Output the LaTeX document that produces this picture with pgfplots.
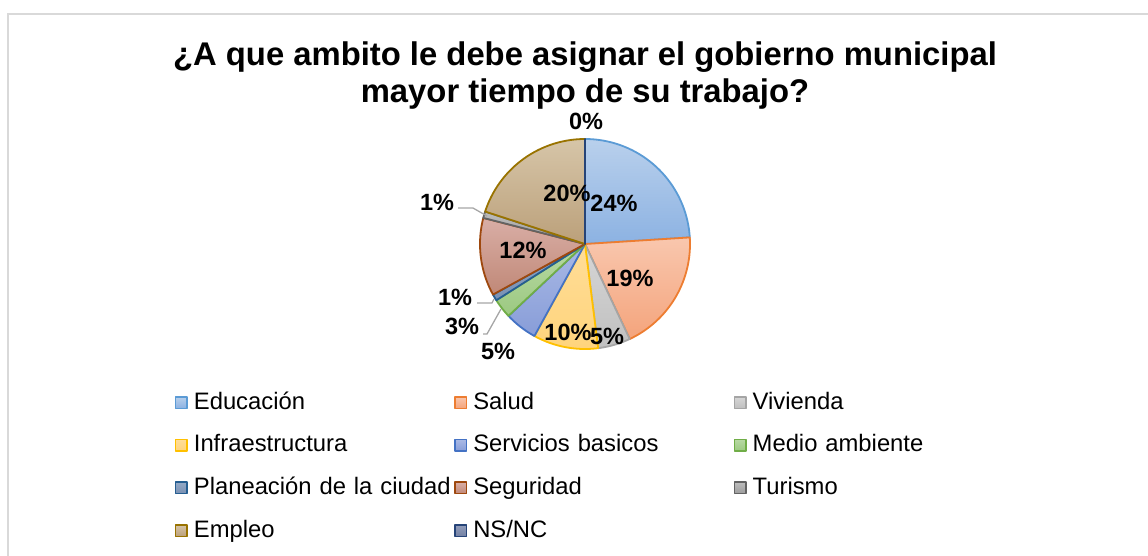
\documentclass[border=0pt]{standalone}
\usepackage{fontspec}
\setmainfont{Liberation Sans}
\usepackage{pgfplots}
\pgfplotsset{compat=1.18}

% fill top / fill bottom / border
\definecolor{eduT}{HTML}{B9D0EC}\definecolor{eduD}{HTML}{8CB2E2}\definecolor{eduB}{HTML}{5B9BD5}
\definecolor{salT}{HTML}{F9C7AE}\definecolor{salD}{HTML}{F4A47C}\definecolor{salB}{HTML}{ED7D31}
\definecolor{vivT}{HTML}{D6D6D6}\definecolor{vivD}{HTML}{C0C0C0}\definecolor{vivB}{HTML}{A5A5A5}
\definecolor{infT}{HTML}{FFDD98}\definecolor{infD}{HTML}{FFD47C}\definecolor{infB}{HTML}{FFC000}
\definecolor{serT}{HTML}{A9B9E5}\definecolor{serD}{HTML}{889DD8}\definecolor{serB}{HTML}{4472C4}
\definecolor{medT}{HTML}{B8D9A4}\definecolor{medD}{HTML}{9CC981}\definecolor{medB}{HTML}{70AD47}
\definecolor{plaT}{HTML}{93A9C6}\definecolor{plaD}{HTML}{7990B3}\definecolor{plaB}{HTML}{255E91}
\definecolor{segT}{HTML}{D9AEA6}\definecolor{segD}{HTML}{C08877}\definecolor{segB}{HTML}{9E480E}
\definecolor{turT}{HTML}{BDBDBD}\definecolor{turD}{HTML}{9C9C9C}\definecolor{turB}{HTML}{636363}
\definecolor{empT}{HTML}{D6C5A8}\definecolor{empD}{HTML}{BBA07A}\definecolor{empB}{HTML}{997300}
\definecolor{nsnT}{HTML}{929DBA}\definecolor{nsnD}{HTML}{7381A4}\definecolor{nsnB}{HTML}{264478}
\definecolor{leader}{HTML}{A6A6A6}
\definecolor{frame}{HTML}{D9D9D9}

\begin{document}
\begin{tikzpicture}
\begin{axis}[
  scale only axis, width=1148pt, height=555pt,
  xmin=0, xmax=1148, ymin=0, ymax=555, y dir=reverse,
  hide axis, clip=false,
  legend columns=3,
  legend style={at={(axis description cs:0.152439,0.293694)}, anchor=north west,
    draw=none, fill=none, inner sep=0pt, outer sep=0pt, row sep=20.7pt,
    font=\fontsize{23.8}{28}\selectfont,
    cells={anchor=base west},
    nodes={inner sep=0pt, outer sep=0pt, anchor=base west, text width=260.5pt, align=left,
      text height=17pt, text depth=5pt}},
  legend image code/.code={\path[#1, line width=1.5pt] (0.75pt,0.75pt) rectangle (12.25pt,12.25pt); \path (18pt,0pt);},
]
\xdef\cum{0}
\foreach \vv/\nm/\cc in {24/Educación/edu, 19/Salud/sal, 5/Vivienda/viv,
    10/Infraestructura/inf, 5/Servicios basicos/ser, 3/Medio ambiente/med,
    1/Planeación de la ciudad/pla, 12/Seguridad/seg, 1/Turismo/tur,
    20/Empleo/emp, 0/{NS/NC}/nsn}{%
  \pgfmathsetmacro\sA{90-3.6*\cum}%
  \pgfmathsetmacro\sB{90-3.6*(\cum+\vv)}%
  \pgfmathsetmacro\sBB{min(\sB,\sA-0.02)}%
  \pgfmathsetmacro\newcum{\cum+\vv}%
  \xdef\cum{\newcum}%
  \edef\temp{\noexpand\addplot[draw=\cc B, line width=1.8pt, line join=round, top color=\cc T, bottom color=\cc D,
      domain=\sBB:\sA, samples=90]
      ({585+105*cos(x)},{244-105*sin(x)}) -- (axis cs:585,244) -- cycle;
    \noexpand\addlegendentry{\nm}}%
  \temp
}

% data labels
\begin{scope}[every node/.style={font=\bfseries\fontsize{23.5}{27}\selectfont, inner sep=0pt}]
\node at (axis cs:586,121) {0\%};
\node at (axis cs:614,203) {24\%};
\node at (axis cs:630,278) {19\%};
\node at (axis cs:607,336) {5\%};
\node at (axis cs:568,332) {10\%};
\node at (axis cs:498,351) {5\%};
\node at (axis cs:462,326) {3\%};
\node at (axis cs:455,297) {1\%};
\node at (axis cs:523,250) {12\%};
\node at (axis cs:437,202) {1\%};
\node at (axis cs:567,193) {20\%};
\end{scope}

% leader lines
\draw[leader, line width=1.3pt] (axis cs:458,208) -- (axis cs:473,208) -- (axis cs:487,216);
\draw[leader, line width=1.3pt] (axis cs:477,303) -- (axis cs:492,303) -- (axis cs:494,299);
\draw[leader, line width=1.3pt] (axis cs:483,334) -- (axis cs:487,334) -- (axis cs:501,309);

% title
\node[anchor=base, inner sep=0pt, font=\bfseries\fontsize{32.8}{38}\selectfont] at (axis cs:585,65)
  {¿A que ambito le debe asignar el gobierno municipal};
\node[anchor=base, inner sep=0pt, font=\bfseries\fontsize{32.8}{38}\selectfont] at (axis cs:585,102.5)
  {mayor tiempo de su trabajo?};

% chart frame
\draw[frame, line width=1.5pt] (axis cs:8,560) -- (axis cs:8,14) -- (axis cs:1160,14);
\end{axis}
\pgfresetboundingbox
\useasboundingbox (current axis.south west) rectangle (current axis.north east);
\end{tikzpicture}
\end{document}
